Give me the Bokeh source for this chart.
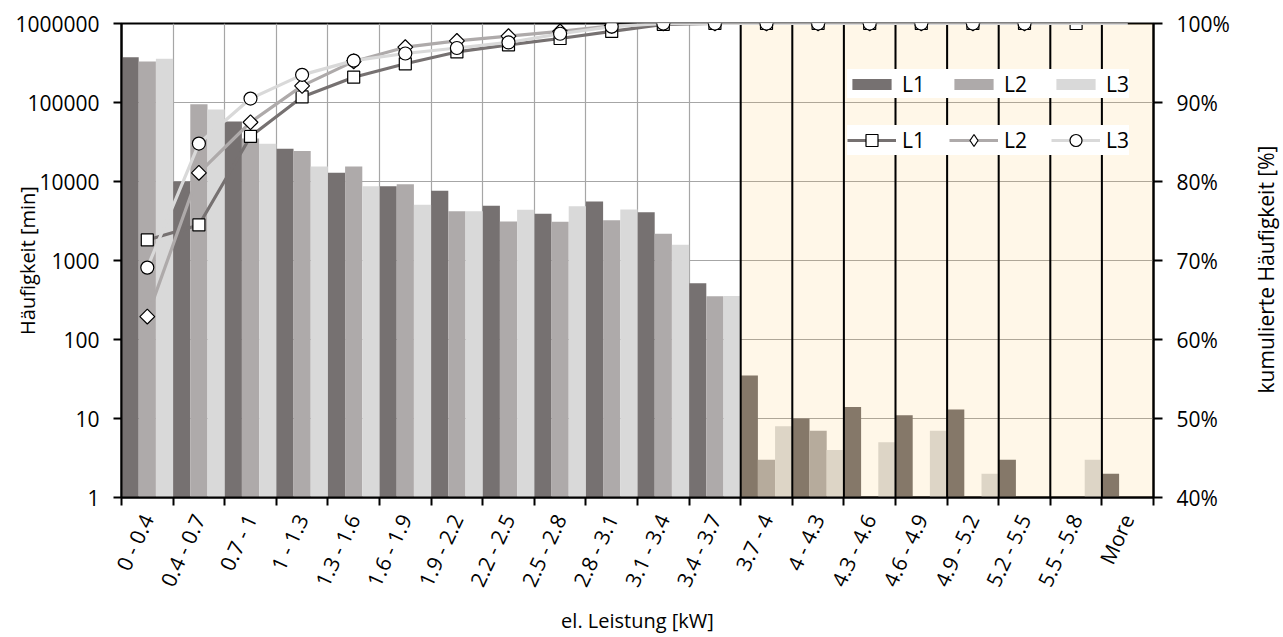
import numpy as np
from bokeh.plotting import figure
from bokeh.layouts import row
from bokeh.models import (Range1d, LinearAxis, LinearScale, FixedTicker, NumeralTickFormatter,
                          Legend, LegendItem)
from bokeh.embed import file_html
from bokeh.resources import INLINE

categories = ["0 - 0.4", "0.4 - 0.7", "0.7 - 1", "1 - 1.3", "1.3 - 1.6", "1.6 - 1.9",
              "1.9 - 2.2", "2.2 - 2.5", "2.5 - 2.8", "2.8 - 3.1", "3.1 - 3.4", "3.4 - 3.7",
              "3.7 - 4", "4 - 4.3", "4.3 - 4.6", "4.6 - 4.9", "4.9 - 5.2", "5.2 - 5.5",
              "5.5 - 5.8", "More"]

freq_L1 = [374000, 10000, 57400, 25900, 12900, 8720, 7620, 4920, 3900, 5580, 4090, 516,
           35, 10, 14, 11, 13, 3, 0, 2]
freq_L2 = [330000, 95200, 35000, 24400, 15500, 9250, 4210, 3120, 3100, 3240, 2180, 353,
           3, 7, 0, 0, 0, 0, 0, 0]
freq_L3 = [357000, 81500, 30000, 15500, 8720, 5070, 4200, 4380, 4870, 4420, 1580, 355,
           8, 4, 5, 7, 2, 0, 3, 0]

cum_L1 = [72.6, 74.5, 85.7, 90.7, 93.2, 94.9, 96.4, 97.3, 98.1, 99.0, 99.9, 100,
          100, 100, 100, 100, 100, 100, 100, 100]
cum_L2 = [62.9, 81.1, 87.5, 92.1, 95.2, 97.0, 97.8, 98.4, 99.0, 99.7, 100, 100,
          100, 100, 100, 100, 100, 100, 100, 100]
cum_L3 = [69.1, 84.8, 90.5, 93.5, 95.3, 96.2, 96.9, 97.6, 98.7, 99.6, 100, 100,
          100, 100, 100, 100, 100, 100, 100, 100]
marker_count = {"L1": 19, "L2": 18, "L3": 18}

highlight_start = 12  # first category of the shaded region

x_title = "el. Leistung [kW]"
y_title = "Häufigkeit [min]"
y2_title = "kumulierte Häufigkeit [%]"

bar_colors = ["#767171", "#aeaaaa", "#d9d9d9"]
names = ["L1", "L2", "L3"]
FONT = "Open Sans"

n = len(categories)
centers = [i + 0.5 for i in range(n)]

BL, BT, BR, BB = 121, 23, 97, 136
FW, FH = 1032, 474
H = BT + FH + BB
p = figure(width=BL + FW + BR, height=H, frame_width=FW, frame_height=FH,
           x_range=Range1d(0, n), y_range=Range1d(1, 1e6), y_axis_type="log",
           output_backend="svg", toolbar_location=None,
           min_border_left=BL, min_border_top=BT, min_border_right=BR, min_border_bottom=BB)
p.extra_y_ranges = {"pct": Range1d(0.4, 1.0)}
p.extra_y_scales = {"pct": LinearScale()}
p.background_fill_color = "white"
p.border_fill_color = "white"
p.outline_line_color = "black"
p.outline_line_width = 2

# grids
p.xgrid.ticker = FixedTicker(ticks=list(range(1, n)))
p.ygrid.ticker = FixedTicker(ticks=[10, 100, 1000, 10000, 100000])
for g in (p.xgrid, p.ygrid):
    g.grid_line_color = "#a6a6a6"
    g.grid_line_width = 1.2

# bottom axis
xa = p.xaxis[0]
xa.ticker = FixedTicker(ticks=centers, minor_ticks=list(range(0, n + 1)))
xa.major_label_overrides = {c: lab for c, lab in zip(centers, categories)}
xa.major_tick_out = 0
xa.major_tick_in = 0
xa.minor_tick_out = 8
xa.minor_tick_in = 0
xa.minor_tick_line_color = "black"
xa.minor_tick_line_width = 2
xa.axis_line_color = "black"
xa.axis_line_width = 2
xa.major_label_orientation = np.deg2rad(65)
xa.major_label_text_font = FONT
xa.major_label_text_font_size = "21px"
xa.major_label_text_color = "black"
xa.major_label_standoff = 10
xa.axis_label = x_title
xa.axis_label_text_font = FONT
xa.axis_label_text_font_size = "20px"
xa.axis_label_text_font_style = "normal"
xa.axis_label_text_color = "black"
xa.axis_label_standoff = 7

# left axis
ya = p.yaxis[0]
ya.ticker = FixedTicker(ticks=[1, 10, 100, 1000, 10000, 100000, 1000000])
ya.formatter = NumeralTickFormatter(format="0")
ya.major_tick_out = 8
ya.major_tick_in = 0
ya.minor_tick_out = 0
ya.minor_tick_in = 0
ya.major_tick_line_color = "black"
ya.major_tick_line_width = 2
ya.axis_line_color = "black"
ya.axis_line_width = 2
ya.major_label_text_font = FONT
ya.major_label_text_font_size = "21px"
ya.major_label_text_color = "black"
ya.major_label_standoff = 14
ya.axis_label = y_title
ya.axis_label_text_font = FONT
ya.axis_label_text_font_size = "20px"
ya.axis_label_text_font_style = "normal"
ya.axis_label_text_color = "black"
ya.axis_label_standoff = -29

# right axis
ra = LinearAxis(y_range_name="pct",
                ticker=FixedTicker(ticks=[0.4, 0.5, 0.6, 0.7, 0.8, 0.9, 1.0]),
                formatter=NumeralTickFormatter(format="0%"))
ra.major_tick_out = 9
ra.major_tick_in = 0
ra.minor_tick_out = 0
ra.minor_tick_in = 0
ra.major_tick_line_color = "black"
ra.major_tick_line_width = 2
ra.axis_line_color = "black"
ra.axis_line_width = 2
ra.major_label_text_font = FONT
ra.major_label_text_font_size = "21px"
ra.major_label_text_color = "black"
ra.major_label_standoff = 14
p.add_layout(ra, "right")

# bars
bw = 1.0 / 3
bar_renderers = []
for k, (vals, col) in enumerate(zip([freq_L1, freq_L2, freq_L3], bar_colors)):
    xs = [i + bw * (k + 0.5) for i, v in enumerate(vals) if v > 0]
    tops = [v for v in vals if v > 0]
    r = p.vbar(x=xs, top=tops, bottom=1, width=bw, fill_color=col, line_color=None)
    bar_renderers.append(r)

# shaded region overlay (tints grid and bars)
p.quad(left=[highlight_start], right=[n], bottom=[1], top=[1e6],
       fill_color="rgb(255,185,47)", fill_alpha=0.11, line_color=None)
bx = list(range(highlight_start, n))
p.segment(x0=bx, x1=bx, y0=[1] * len(bx), y1=[1e6] * len(bx),
          line_color="black", line_width=2)

# cumulative lines
line_items = []
markers = ["square", "square", "circle"]
msizes = [12, 10.5, 13]
angles = [0, np.pi / 4, 0]
for k, (cum, col) in enumerate(zip([cum_L1, cum_L2, cum_L3], bar_colors)):
    yv = [c / 100 for c in cum]
    lr = p.line(x=centers, y=yv, y_range_name="pct", line_color=col, line_width=3.2)
    m = marker_count[names[k]]
    mr = p.scatter(x=centers[:m], y=yv[:m], y_range_name="pct", marker=markers[k],
                   size=msizes[k], angle=angles[k], fill_color="white",
                   line_color="black", line_width=1.2)
    if names[k] == "L2":
        # legend-only glyph placed outside the visible range
        mr = p.scatter(x=[-5], y=[0.0], y_range_name="pct", marker="diamond",
                       size=18, fill_color="white", line_color="black", line_width=1.2)
    line_items.append(LegendItem(label=names[k], renderers=[lr, mr]))


def style_legend(lg, gh):
    lg.background_fill_color = "white"
    lg.background_fill_alpha = 1
    lg.border_line_color = None
    lg.orientation = "horizontal"
    lg.glyph_width = 49
    lg.glyph_height = gh
    lg.label_standoff = 6
    lg.spacing = 24
    lg.padding = 14
    lg.margin = 0
    lg.label_height = 29
    lg.label_text_font = FONT
    lg.label_text_font_size = "21px"
    lg.label_text_color = "black"


leg1 = Legend(items=[LegendItem(label=names[k], renderers=[bar_renderers[k]]) for k in range(3)],
              location=(726, 399))
leg2 = Legend(items=line_items, location=(726, 342))
style_legend(leg1, 14)
style_legend(leg2, 30)
p.add_layout(leg1)
p.add_layout(leg2)

# narrow companion figure holding the right-hand axis title (reads bottom to top)
TW = 30
pt = figure(width=TW, height=H, frame_width=TW, frame_height=H, title=None,
            x_range=Range1d(0, TW), y_range=Range1d(0, H),
            output_backend="svg", toolbar_location=None,
            min_border_left=0, min_border_right=0, min_border_top=0, min_border_bottom=0)
pt.axis.visible = False
pt.grid.visible = False
pt.outline_line_color = None
pt.background_fill_color = "white"
pt.border_fill_color = "white"
pt.text(x=[TW / 2], y=[H - 246], text=[y2_title], angle=np.pi / 2,
        text_align="center", text_baseline="middle", text_font_size="21px",
        text_font={"value": FONT}, text_color="black")

layout = row(p, pt, spacing=0)
open("out.html", "w").write(file_html(layout, INLINE))
